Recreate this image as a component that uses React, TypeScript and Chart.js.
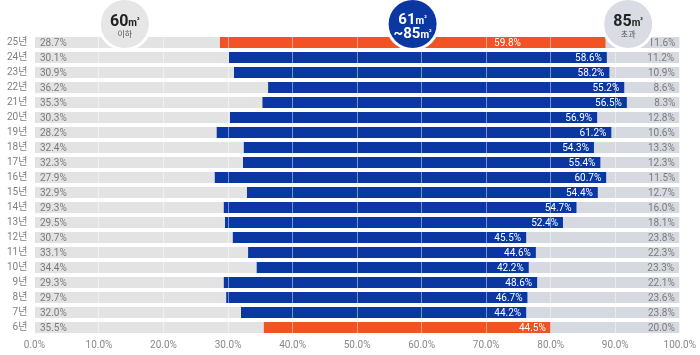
import React, { useEffect, useRef } from "react";
import { Chart, registerables } from "chart.js";

Chart.register(...registerables);

const years = ["25년", "24년", "23년", "22년", "21년", "20년", "19년", "18년", "17년", "16년", "15년", "14년", "13년", "12년", "11년", "10년", "9년", "8년", "7년", "6년"];
const small = [28.7, 30.1, 30.9, 36.2, 35.3, 30.3, 28.2, 32.4, 32.3, 27.9, 32.9, 29.3, 29.5, 30.7, 33.1, 34.4, 29.3, 29.7, 32.0, 35.5];
const mid = [59.8, 58.6, 58.2, 55.2, 56.5, 56.9, 61.2, 54.3, 55.4, 60.7, 54.4, 54.7, 52.4, 45.5, 44.6, 42.2, 48.6, 46.7, 44.2, 44.5];
const large = [11.6, 11.2, 10.9, 8.6, 8.3, 12.8, 10.6, 13.3, 12.3, 11.5, 12.7, 16.0, 18.1, 23.8, 22.3, 23.3, 22.1, 23.6, 23.8, 20.0];
const highlight = ["25년", "6년"];
const xTicks = [0, 10, 20, 30, 40, 50, 60, 70, 80, 90, 100];
const circles = [
  { value: 14, main: "60", sub: "이하", kind: "small" },
  { value: 58.6, main: "61", sub: "~85", kind: "mid" },
  { value: 92, main: "85", sub: "초과", kind: "large" },
];
const topMidLabelValue = 73.3;

const FONT = "Roboto, 'Noto Sans CJK KR', sans-serif";
const BLUE = "#0a37a1";
const ORANGE = "#f15324";
const GRAY_L = "#e3e3e3";
const GRAY_R = "#d6dae0";

export default function App() {
  const ref = useRef<HTMLCanvasElement>(null);
  useEffect(() => {
    document.body.style.margin = "0";
    const ctx = ref.current!.getContext("2d")!;
    const labelPlugin = {
      id: "labels",
      afterDraw(chart: any) {
        const c = chart.ctx;
        const xs = chart.scales.x;
        c.save();
        [0, 1, 2].forEach((di) => {
          const meta = chart.getDatasetMeta(di);
          meta.data.forEach((bar: any, i: number) => {
            const y = bar.y;
            const left = Math.min(bar.x, bar.base);
            const right = Math.max(bar.x, bar.base);
            let text = "";
            c.font = `10px ${FONT}`;
            c.textBaseline = "middle";
            if (di === 0) {
              text = small[i].toFixed(1) + "%";
              c.fillStyle = "#7a7a7a";
              c.textAlign = "left";
              c.fillText(text, left + 5, y + 0.5);
            } else if (di === 1) {
              text = mid[i].toFixed(1) + "%";
              c.fillStyle = "#ffffff";
              if (i === 0) {
                c.textAlign = "center";
                c.fillText(text, xs.getPixelForValue(topMidLabelValue), y + 0.5);
              } else {
                c.textAlign = "right";
                c.fillText(text, right - 5, y + 0.5);
              }
            } else {
              text = large[i].toFixed(1) + "%";
              c.fillStyle = "#7a7a7a";
              c.textAlign = "right";
              c.fillText(text, right - 5, y + 0.5);
            }
          });
        });
        // circles
        circles.forEach((ci) => {
          const cx = xs.getPixelForValue(ci.value);
          const cy = 24;
          const r = 24;
          c.beginPath();
          c.arc(cx, cy, r + 3, 0, Math.PI * 2);
          c.fillStyle = "#ffffff";
          c.fill();
          c.beginPath();
          c.arc(cx, cy, r, 0, Math.PI * 2);
          c.fillStyle = ci.kind === "mid" ? BLUE : ci.kind === "small" ? "#e6e6e6" : "#d9dde3";
          c.fill();
          const drawUnit = (num: string, yy: number, color: string, big: number) => {
            c.font = `bold ${big}px ${FONT}`;
            const w1 = c.measureText(num).width;
            c.font = `bold 10px ${FONT}`;
            const w2 = c.measureText("m").width;
            c.font = `bold 7px ${FONT}`;
            const w3 = c.measureText("²").width;
            const total = w1 + w2 + w3;
            let x0 = cx - total / 2;
            c.fillStyle = color;
            c.textAlign = "left";
            c.textBaseline = "alphabetic";
            c.font = `bold ${big}px ${FONT}`;
            c.fillText(num, x0, yy);
            x0 += w1;
            c.font = `bold 10px ${FONT}`;
            c.fillText("m", x0, yy);
            x0 += w2;
            c.font = `bold 7px ${FONT}`;
            c.fillText("²", x0, yy - 4);
          };
          if (ci.kind === "mid") {
            drawUnit(ci.main, 24, "#ffffff", 15);
            drawUnit(ci.sub, 38, "#ffffff", 15);
          } else {
            drawUnit(ci.main, 26, "#222222", 16);
            c.font = `8px ${FONT}`;
            c.textAlign = "center";
            c.textBaseline = "middle";
            c.fillStyle = "#555555";
            c.fillText(ci.sub, cx, 35);
          }
        });
        c.restore();
      },
    };
    const chart = new Chart(ctx, {
      type: "bar",
      data: {
        labels: years,
        datasets: [
          { label: "60㎡ 이하", data: small, backgroundColor: GRAY_L },
          {
            label: "61㎡~85㎡",
            data: mid,
            backgroundColor: years.map((y) => (highlight.includes(y) ? ORANGE : BLUE)),
          },
          { label: "85㎡ 초과", data: large, backgroundColor: GRAY_R },
        ],
      },
      options: {
        indexAxis: "y",
        animation: false,
        responsive: false,
        maintainAspectRatio: false,
        layout: { padding: { top: 35, left: 0, right: 0, bottom: 0 } },
        datasets: { bar: { categoryPercentage: 1, barPercentage: 0.74 } },
        plugins: { legend: { display: false }, tooltip: { enabled: false } },
        scales: {
          x: {
            stacked: true,
            min: 0,
            max: 100,
            afterBuildTicks: (s: any) => {
              s.ticks = xTicks.map((v) => ({ value: v }));
            },
            grid: { color: "rgba(255,255,255,0.45)", drawTicks: false, z: 1 },
            border: { display: false },
            ticks: {
              padding: 4,
              color: "#888888",
              font: { size: 10, family: FONT },
              callback: (v: any) => Number(v).toFixed(1) + "%",
            },
          },
          y: {
            stacked: true,
            grid: { display: false, drawTicks: false },
            border: { display: false },
            ticks: { padding: 7, autoSkip: false, color: "#808080", font: { size: 10, family: FONT } },
          },
        },
      },
      plugins: [labelPlugin],
    });
    return () => chart.destroy();
  }, []);
  return (
    <div style={{ position: "absolute", left: 0, top: 0, width: 700, height: 355 }}>
      <canvas ref={ref} width={700} height={355} style={{ width: 700, height: 355 }} />
    </div>
  );
}
